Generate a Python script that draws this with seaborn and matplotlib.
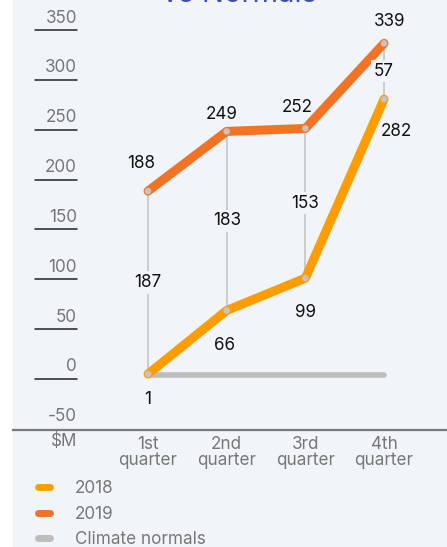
import matplotlib
matplotlib.use("Agg")
import matplotlib.pyplot as plt
from matplotlib.lines import Line2D
import seaborn as sns
import pandas as pd

# ---- data ----
quarters = ["1st\nquarter", "2nd\nquarter", "3rd\nquarter", "4th\nquarter"]
values_2018 = [1, 66, 99, 282]
values_2019 = [188, 249, 252, 339]
climate_normals = [0, 0, 0, 0]
differences = [187, 183, 153, 57]
y_ticks = [-50, 0, 50, 100, 150, 200, 250, 300, 350]
series_names = ["2018", "2019", "Climate normals"]
unit_label = "$M"
title = "vs Normals"

# ---- style ----
BG = "#F1F4F9"
C2018 = "#FF9D00"
C2019 = "#F37325"
CNORM = "#BDBDBD"
CONN = "#C4C4C4"
TXT = "#111111"
GREY = "#777777"
FS = 12.3

sns.set_theme(style="white")
plt.rcParams["font.family"] = ["Inter", "DejaVu Sans"]

W, H = 447, 547
fig = plt.figure(figsize=(W / 100, H / 100), dpi=100)
fig.patch.set_facecolor("white")
fig.patches.append(plt.Rectangle((13 / W, 0), 1 - 13 / W, 1, transform=fig.transFigure,
                                 facecolor=BG, edgecolor="none", zorder=-10))

ax_left, ax_bottom = 13 / W, 1 - 430 / H
ax = fig.add_axes([ax_left, ax_bottom, 1 - ax_left, 1 - ax_bottom])
ax.set_facecolor("none")
# separate scale used for the value guide (ticks) on the left
axt = fig.add_axes([ax_left, ax_bottom, 1 - ax_left, 1 - ax_bottom], sharex=ax)
axt.set_facecolor("none")
axt.set_zorder(ax.get_zorder() - 1)

pos = list(range(len(quarters)))
df = pd.DataFrame({
    "pos": pos * 3,
    "value": climate_normals + values_2018 + values_2019,
    "series": ["Climate normals"] * 4 + ["2018"] * 4 + ["2019"] * 4,
})

for i in pos:
    ax.plot([i, i], [values_2018[i], values_2019[i]], color=CONN, lw=1.2, zorder=2)

sns.lineplot(data=df[df.series == "Climate normals"], x="pos", y="value", color=CNORM,
             lw=4, ax=ax, zorder=1, solid_capstyle="round")
sns.lineplot(data=df[df.series == "2018"], x="pos", y="value", color=C2018,
             lw=6.5, ax=ax, zorder=3, solid_capstyle="round")
sns.lineplot(data=df[df.series == "2019"], x="pos", y="value", color=C2019,
             lw=6.5, ax=ax, zorder=3, solid_capstyle="round")

sns.scatterplot(x=pos + pos, y=values_2018 + values_2019, color=CONN, s=22,
                edgecolor="none", ax=ax, zorder=4)

ax.set_xlim(-1.716, 3.80)
ax.set_ylim(-56.2, 383.3)
axt.set_ylim(-51.2, 380.1)

off19 = [(-7, 28), (-5, 17), (-8, 21), (6, 22)]
off18 = [(0, -25), (-2, -35), (0, -34), (12, -32)]
for i in pos:
    ax.annotate(str(values_2019[i]), (i, values_2019[i]), xytext=off19[i],
                textcoords="offset pixels", ha="center", va="center",
                fontsize=FS, color=TXT, zorder=6)
    ax.annotate(str(values_2018[i]), (i, values_2018[i]), xytext=off18[i],
                textcoords="offset pixels", ha="center", va="center",
                fontsize=FS, color=TXT, zorder=6)
    mid = (values_2018[i] + values_2019[i]) / 2
    ax.text(i, mid, str(differences[i]), ha="center", va="center", fontsize=FS,
            color=TXT, zorder=5,
            bbox=dict(boxstyle="square,pad=0.15", facecolor=BG, edgecolor="none"))

ytr = axt.get_yaxis_transform()
x0 = (35 - 13) / (W - 13)
x1 = (77 - 13) / (W - 13)
for t in y_ticks:
    if t != y_ticks[0]:
        axt.plot([x0, x1], [t, t], transform=ytr, color="#222222", lw=1.1, zorder=2)
    axt.annotate(str(t), (x1, t), xycoords=ytr,
                 xytext=(0, 12), textcoords="offset pixels", ha="right", va="center",
                 fontsize=FS, color=GREY)

for a in (ax, axt):
    for s in ["left", "right", "top", "bottom"]:
        a.spines[s].set_visible(False)
    a.set_yticks([])
    a.set_xlabel("")
    a.set_ylabel("")
ax.spines["bottom"].set_visible(True)
ax.spines["bottom"].set_color("#7A7A7A")
ax.spines["bottom"].set_linewidth(1.6)
ax.set_xticks(pos)
ax.set_xticklabels(quarters, fontsize=FS, color=GREY, linespacing=0.95)
ax.tick_params(axis="x", length=0, pad=4)
axt.tick_params(axis="x", length=0, labelbottom=False)
ax.annotate(unit_label, (x1, 0), xycoords="axes fraction", xytext=(0, -11),
            textcoords="offset pixels", ha="right", va="center", fontsize=FS, color=GREY)

fig.text(240 / W, 1 - 2 / H, title, ha="center", va="baseline", fontsize=21, color="#3B4FB8")

handles = [Line2D([], [], color=c, lw=5, solid_capstyle="round") for c in (C2018, C2019, CNORM)]
leg = fig.legend(handles, series_names, loc="upper left",
                 bbox_to_anchor=(38 / W, 1 - 480 / H), frameon=False, fontsize=FS,
                 handlelength=0.7, handletextpad=1.45, labelspacing=0.5,
                 borderpad=0, borderaxespad=0)
for t in leg.get_texts():
    t.set_color(GREY)

fig.savefig("out.png", dpi=100, facecolor=fig.get_facecolor())
